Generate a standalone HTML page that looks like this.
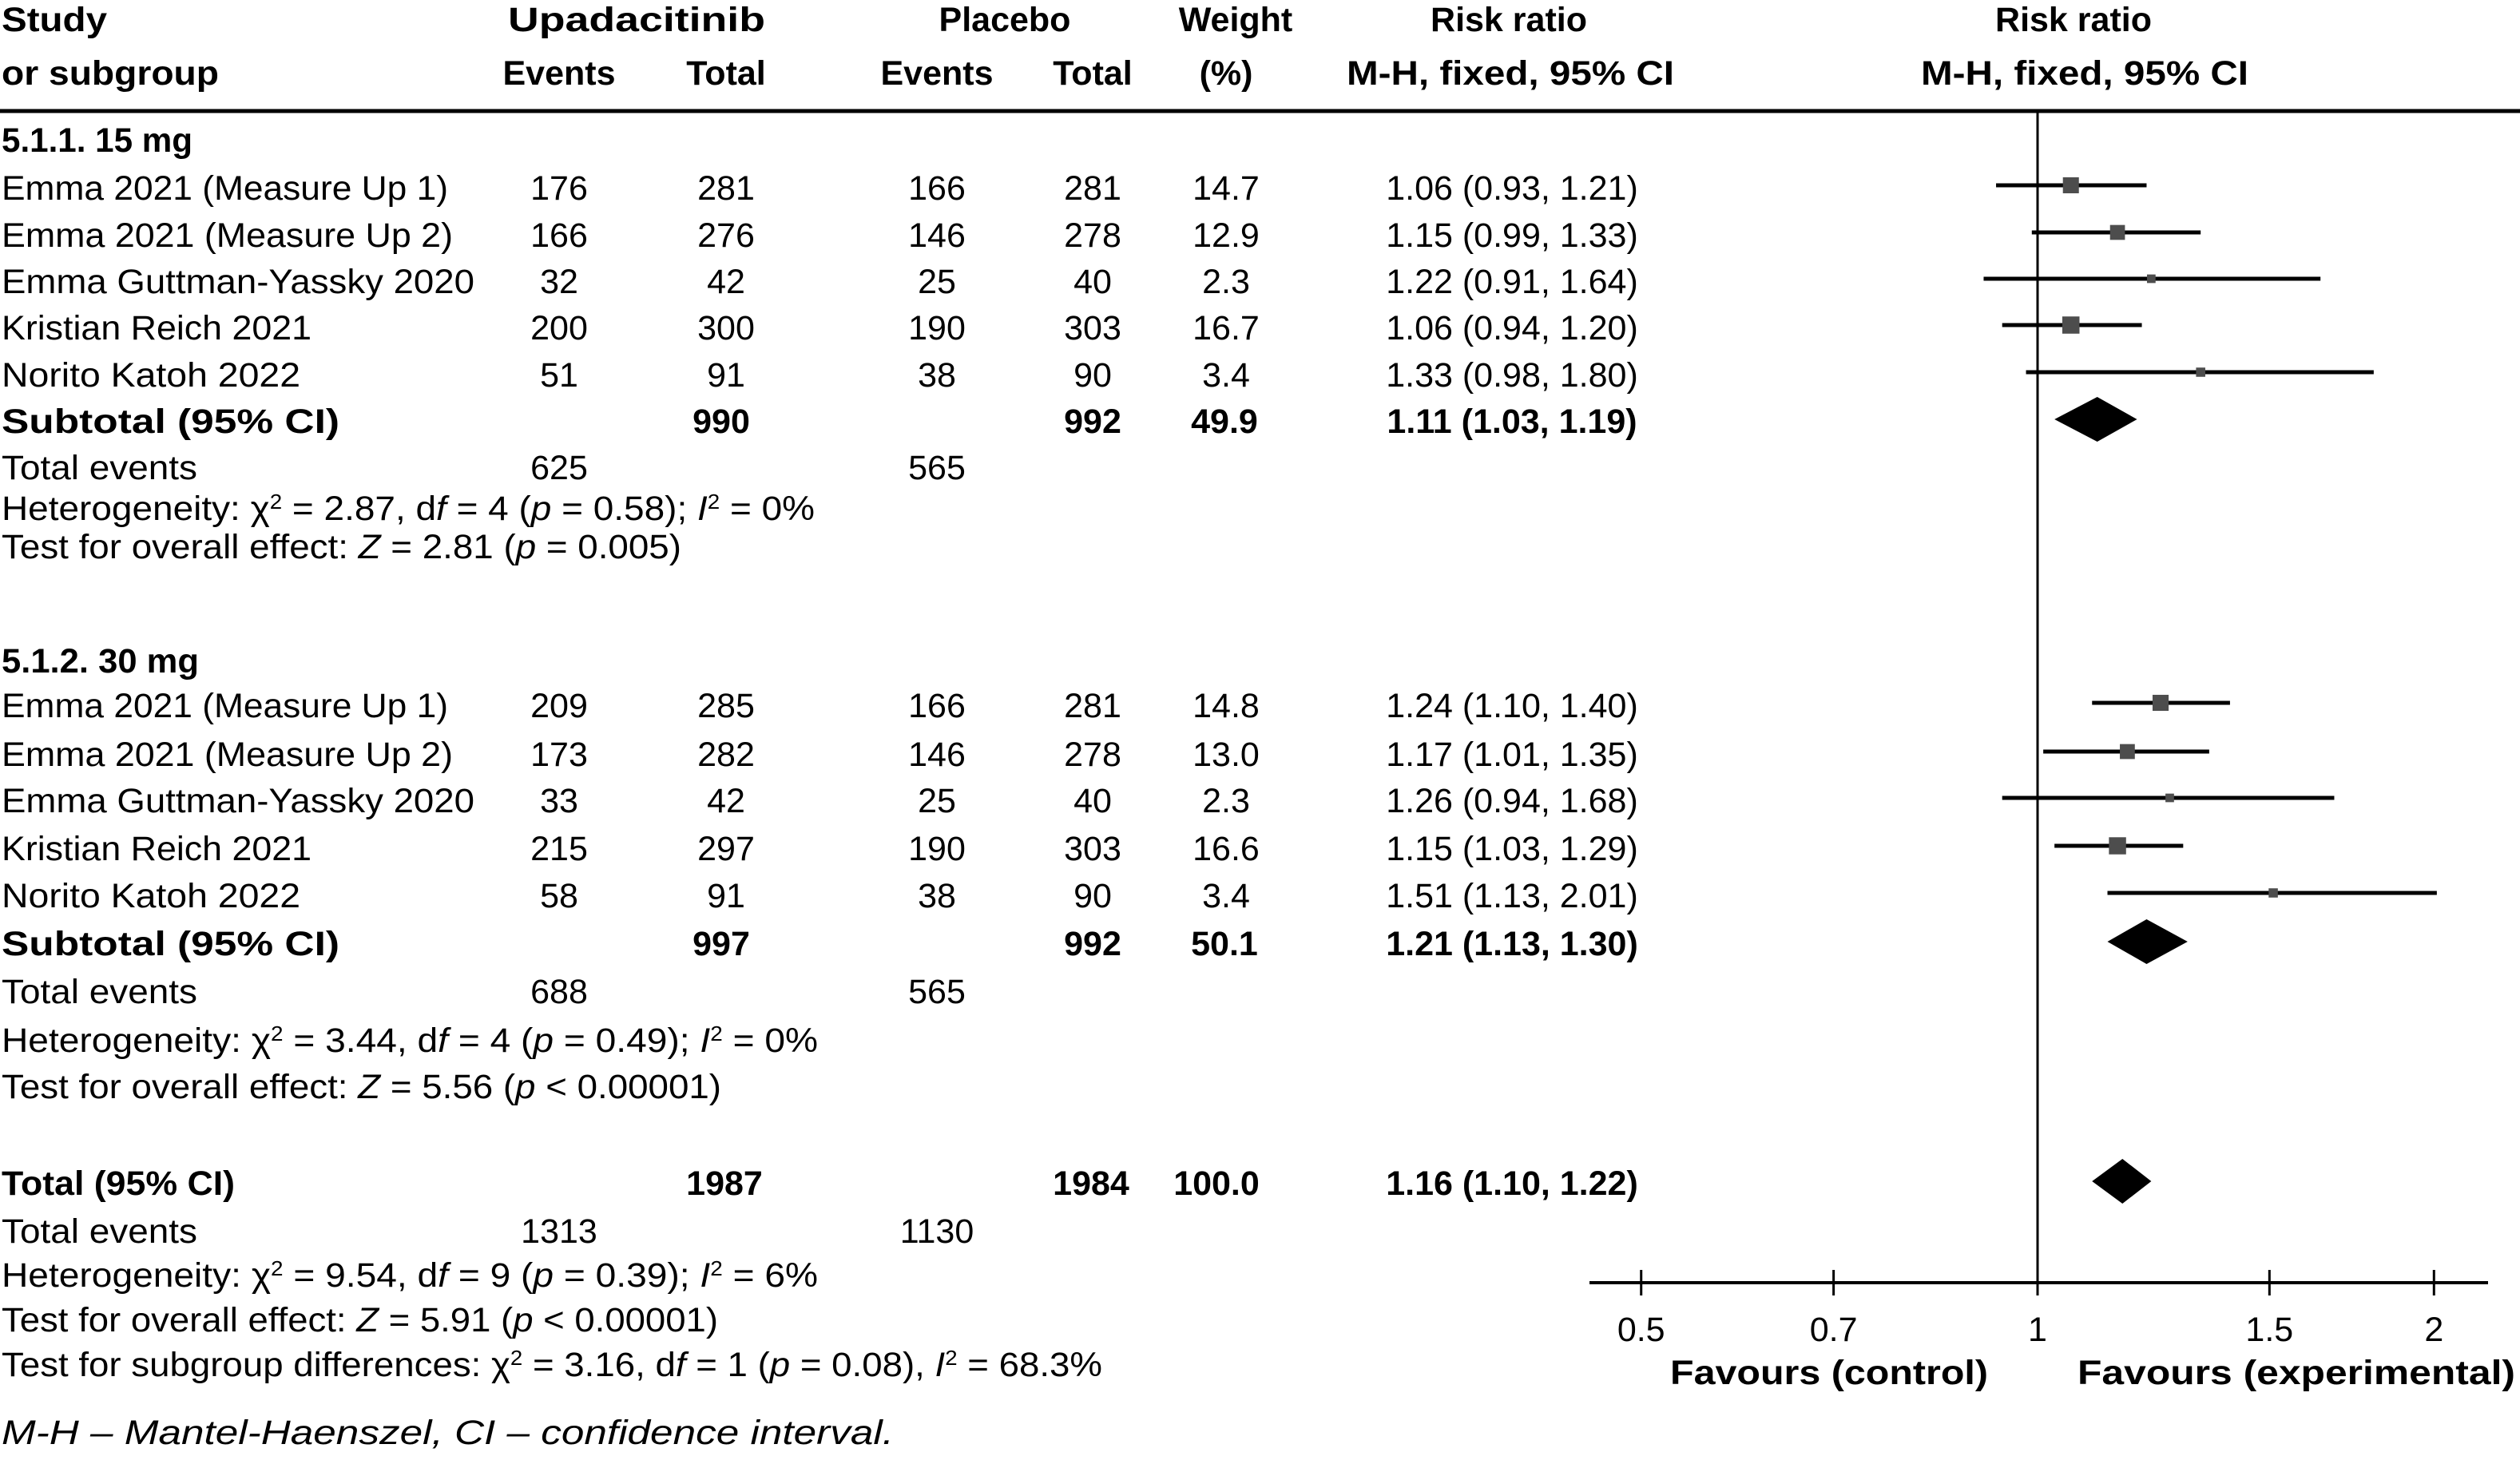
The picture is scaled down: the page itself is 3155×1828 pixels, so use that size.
<!DOCTYPE html>
<html><head><meta charset="utf-8">
<style>
html,body{margin:0;padding:0;background:#fff;}
svg{display:block;}
text{font-family:"Liberation Sans",sans-serif;font-size:43px;fill:#000;}
.b{font-weight:bold;}
.i{font-style:italic;}
</style></head>
<body>
<svg id="chart" width="3155" height="1828" viewBox="0 0 3155 1828" xmlns="http://www.w3.org/2000/svg"></svg>
<script>
// ---- data ----
const studyNames = ["Emma 2021 (Measure Up 1)","Emma 2021 (Measure Up 2)","Emma Guttman-Yassky 2020","Kristian Reich 2021","Norito Katoh 2022"];
const nameWidths = [559,565,592,388,374];
const upaEvents15 = [176,166,32,200,51];
const upaTotal15 = [281,276,42,300,91];
const plaEvents15 = [166,146,25,190,38];
const plaTotal15 = [281,278,40,303,90];
const weight15 = [14.7,12.9,2.3,16.7,3.4];
const rr15 = [1.06,1.15,1.22,1.06,1.33];
const lo15 = [0.93,0.99,0.91,0.94,0.98];
const hi15 = [1.21,1.33,1.64,1.20,1.80];
const upaEvents30 = [209,173,33,215,58];
const upaTotal30 = [285,282,42,297,91];
const plaEvents30 = [166,146,25,190,38];
const plaTotal30 = [281,278,40,303,90];
const weight30 = [14.8,13.0,2.3,16.6,3.4];
const rr30 = [1.24,1.17,1.26,1.15,1.51];
const lo30 = [1.10,1.01,0.94,1.03,1.13];
const hi30 = [1.40,1.35,1.68,1.29,2.01];
const subWeight = ["49.9","50.1","100.0"];
const subRR = [1.11,1.21,1.16];
const subLo = [1.03,1.13,1.10];
const subHi = [1.19,1.30,1.22];
const tickValues = [0.5,0.7,1,1.5,2];
const tickLabels = ["0.5","0.7","1","1.5","2"];

// ---- layout ----
const svg = document.getElementById('chart');
const NS = "http://www.w3.org/2000/svg";
const X0 = 2551, K = 716;
function xScale(v){ return X0 + K*Math.log(v); }
const COL = {ue:700, ut:909, pe:1173, pt:1368, w:1535, rr:1893};
const rowC1 = [235,294,352,410,469];
const rowC2 = [883,944,1002,1062,1121];
const subC = [527,1181,1481];

function el(tag, attrs, parent){
  const e = document.createElementNS(NS, tag);
  for (const k in attrs) e.setAttribute(k, attrs[k]);
  (parent||svg).appendChild(e);
  return e;
}
function txt(s, x, cy, anchor, cls, name, tl){
  const t = el('text', {x:x, y:cy+15, 'text-anchor':anchor||'start'});
  if (cls) t.setAttribute('class', cls);
  if (tl){ t.setAttribute('textLength', tl); t.setAttribute('lengthAdjust','spacingAndGlyphs'); }
  
  
  t.innerHTML = s;
  return t;
}
const fmt = v => v.toFixed(2);

// header
txt("Study", 2, 24, 'start', 'b', 'header-study', 132);
txt("or subgroup", 2, 91, 'start', 'b', 'header-subgroup', 272);
txt("Upadacitinib", 797, 24, 'middle', 'b', 'header-upadacitinib', 322);
txt("Events", 700, 91, 'middle', 'b', 'header-upa-events');
txt("Total", 909, 91, 'middle', 'b', 'header-upa-total');
txt("Placebo", 1258, 24, 'middle', 'b', 'header-placebo');
txt("Events", 1173, 91, 'middle', 'b', 'header-pla-events');
txt("Total", 1368, 91, 'middle', 'b', 'header-pla-total');
txt("Weight", 1547, 24, 'middle', 'b', 'header-weight');
txt("(%)", 1535, 91, 'middle', 'b', 'header-weight-pct');
txt("Risk ratio", 1889, 24, 'middle', 'b', 'header-risk-ratio');
txt("M-H, fixed, 95% CI", 1891, 91, 'middle', 'b', 'header-mh-ci', 410);
txt("Risk ratio", 2596, 24, 'middle', 'b', 'header-plot-risk-ratio');
txt("M-H, fixed, 95% CI", 2610, 91, 'middle', 'b', 'header-plot-mh-ci', 410);
let hl = el('line', {x1:0, y1:139, x2:3155, y2:139, stroke:'#000', 'stroke-width':5});



// vertical null line
let vl = el('line', {x1:xScale(1), y1:139, x2:xScale(1), y2:1606, stroke:'#000', 'stroke-width':3});



function studyRows(rows, ue, ut, pe, pt, w, rr, lo, hi, tag){
  for (let i=0;i<rows.length;i++){
    const y = rows[i];
    txt(studyNames[i], 2, y, 'start', '', 'study-name-'+tag+'-'+(i+1), nameWidths[i]);
    txt(ue[i], COL.ue, y, 'middle', '', 'upa-events-'+tag+'-'+(i+1));
    txt(ut[i], COL.ut, y, 'middle', '', 'upa-total-'+tag+'-'+(i+1));
    txt(pe[i], COL.pe, y, 'middle', '', 'pla-events-'+tag+'-'+(i+1));
    txt(pt[i], COL.pt, y, 'middle', '', 'pla-total-'+tag+'-'+(i+1));
    txt(w[i].toFixed(1), COL.w, y, 'middle', '', 'weight-'+tag+'-'+(i+1));
    txt(fmt(rr[i])+" ("+fmt(lo[i])+", "+fmt(hi[i])+")", COL.rr, y, 'middle', '', 'rr-ci-'+tag+'-'+(i+1));
    const my = y - 3;
    const ci = el('line', {x1:xScale(lo[i]), y1:my, x2:xScale(hi[i]), y2:my, stroke:'#000', 'stroke-width':5});
    
    
    const s = 9 + 0.75*w[i];
    const sq = el('rect', {x:xScale(rr[i])-s/2, y:my-s/2, width:s, height:s, fill:'#4d4d4d'});
    
    
  }
}
function diamond(k, name){
  const y = subC[k]-2, h = 28;
  const p = el('polygon', {points:[xScale(subLo[k])+','+y, xScale(subRR[k])+','+(y-h), xScale(subHi[k])+','+y, xScale(subRR[k])+','+(y+h)].join(' '), fill:'#000'});
  
  
}
const sum = a => a.reduce((s,v)=>s+v,0);

// subgroup 1
txt("5.1.1. 15 mg", 2, 175, 'start', 'b', 'section-15mg', 239);
studyRows(rowC1, upaEvents15, upaTotal15, plaEvents15, plaTotal15, weight15, rr15, lo15, hi15, '15mg');
txt("Subtotal (95% CI)", 2, subC[0], 'start', 'b', 'subtotal-15mg-label', 423);
txt(sum(upaTotal15), 903, subC[0], 'middle', 'b', 'subtotal-15mg-upa-total');
txt(sum(plaTotal15), 1368, subC[0], 'middle', 'b', 'subtotal-15mg-pla-total');
txt(subWeight[0], 1533, subC[0], 'middle', 'b', 'subtotal-15mg-weight');
txt(fmt(subRR[0])+" ("+fmt(subLo[0])+", "+fmt(subHi[0])+")", COL.rr, subC[0], 'middle', 'b', 'subtotal-15mg-rr');
diamond(0, 'diamond-15mg');
txt("Total events", 2, 585, 'start', '', 'total-events-15mg-label', 245);
txt(sum(upaEvents15), COL.ue, 585, 'middle', '', 'total-events-15mg-upa');
txt(sum(plaEvents15), COL.pe, 585, 'middle', '', 'total-events-15mg-pla');
txt('Heterogeneity: χ<tspan dy="-14" font-size="26">2</tspan><tspan dy="14"> = 2.87, d</tspan><tspan class="i">f</tspan> = 4 (<tspan class="i">p</tspan> = 0.58); <tspan class="i">I</tspan><tspan dy="-14" font-size="26">2</tspan><tspan dy="14"> = 0%</tspan>', 2, 636, 'start', '', 'heterogeneity-15mg', 1018);
txt('Test for overall effect: <tspan class="i">Z</tspan> = 2.81 (<tspan class="i">p</tspan> = 0.005)', 2, 684, 'start', '', 'overall-effect-15mg', 851);

// subgroup 2
txt("5.1.2. 30 mg", 2, 827, 'start', 'b', 'section-30mg', 247);
studyRows(rowC2, upaEvents30, upaTotal30, plaEvents30, plaTotal30, weight30, rr30, lo30, hi30, '30mg');
txt("Subtotal (95% CI)", 2, subC[1], 'start', 'b', 'subtotal-30mg-label', 423);
txt(sum(upaTotal30), 903, subC[1], 'middle', 'b', 'subtotal-30mg-upa-total');
txt(sum(plaTotal30), 1368, subC[1], 'middle', 'b', 'subtotal-30mg-pla-total');
txt(subWeight[1], 1533, subC[1], 'middle', 'b', 'subtotal-30mg-weight');
txt(fmt(subRR[1])+" ("+fmt(subLo[1])+", "+fmt(subHi[1])+")", COL.rr, subC[1], 'middle', 'b', 'subtotal-30mg-rr');
diamond(1, 'diamond-30mg');
txt("Total events", 2, 1241, 'start', '', 'total-events-30mg-label', 245);
txt(sum(upaEvents30), COL.ue, 1241, 'middle', '', 'total-events-30mg-upa');
txt(sum(plaEvents30), COL.pe, 1241, 'middle', '', 'total-events-30mg-pla');
txt('Heterogeneity: χ<tspan dy="-14" font-size="26">2</tspan><tspan dy="14"> = 3.44, d</tspan><tspan class="i">f</tspan> = 4 (<tspan class="i">p</tspan> = 0.49); <tspan class="i">I</tspan><tspan dy="-14" font-size="26">2</tspan><tspan dy="14"> = 0%</tspan>', 2, 1302, 'start', '', 'heterogeneity-30mg', 1022);
txt('Test for overall effect: <tspan class="i">Z</tspan> = 5.56 (<tspan class="i">p</tspan> &lt; 0.00001)', 2, 1360, 'start', '', 'overall-effect-30mg', 901);

// total
txt("Total (95% CI)", 2, subC[2], 'start', 'b', 'total-label', 292);
txt(sum(upaTotal15)+sum(upaTotal30), 907, subC[2], 'middle', 'b', 'total-upa-total');
txt(sum(plaTotal15)+sum(plaTotal30), 1366, subC[2], 'middle', 'b', 'total-pla-total');
txt(subWeight[2], 1523, subC[2], 'middle', 'b', 'total-weight');
txt(fmt(subRR[2])+" ("+fmt(subLo[2])+", "+fmt(subHi[2])+")", COL.rr, subC[2], 'middle', 'b', 'total-rr');
diamond(2, 'diamond-total');
txt("Total events", 2, 1541, 'start', '', 'total-events-label', 245);
txt(sum(upaEvents15)+sum(upaEvents30), COL.ue, 1541, 'middle', '', 'total-events-upa');
txt(sum(plaEvents15)+sum(plaEvents30), COL.pe, 1541, 'middle', '', 'total-events-pla');
txt('Heterogeneity: χ<tspan dy="-14" font-size="26">2</tspan><tspan dy="14"> = 9.54, d</tspan><tspan class="i">f</tspan> = 9 (<tspan class="i">p</tspan> = 0.39); <tspan class="i">I</tspan><tspan dy="-14" font-size="26">2</tspan><tspan dy="14"> = 6%</tspan>', 2, 1596, 'start', '', 'heterogeneity-total', 1022);
txt('Test for overall effect: <tspan class="i">Z</tspan> = 5.91 (<tspan class="i">p</tspan> &lt; 0.00001)', 2, 1652, 'start', '', 'overall-effect-total', 897);
txt('Test for subgroup differences: χ<tspan dy="-14" font-size="26">2</tspan><tspan dy="14"> = 3.16, d</tspan><tspan class="i">f</tspan> = 1 (<tspan class="i">p</tspan> = 0.08), <tspan class="i">I</tspan><tspan dy="-14" font-size="26">2</tspan><tspan dy="14"> = 68.3%</tspan>', 2, 1708, 'start', '', 'subgroup-differences', 1378);
txt('M-H – Mantel-Haenszel, CI – confidence interval.', 2, 1793, 'start', 'i', 'footnote', 1117);

// axis
let ax = el('line', {x1:1990, y1:1606, x2:3115, y2:1606, stroke:'#000', 'stroke-width':4});


for (let i=0;i<tickValues.length;i++){
  const x = xScale(tickValues[i]);
  const t = el('line', {x1:x, y1:1590, x2:x, y2:1622, stroke:'#000', 'stroke-width':3});
  
  
  txt(tickLabels[i], x, 1664, 'middle', '', 'x-tick-label-'+tickLabels[i]);
}
txt("Favours (control)", 2489, 1718, 'end', 'b', 'favours-control-label', 398);
txt("Favours (experimental)", 2601, 1718, 'start', 'b', 'favours-experimental-label', 548);
</script>
</body></html>
